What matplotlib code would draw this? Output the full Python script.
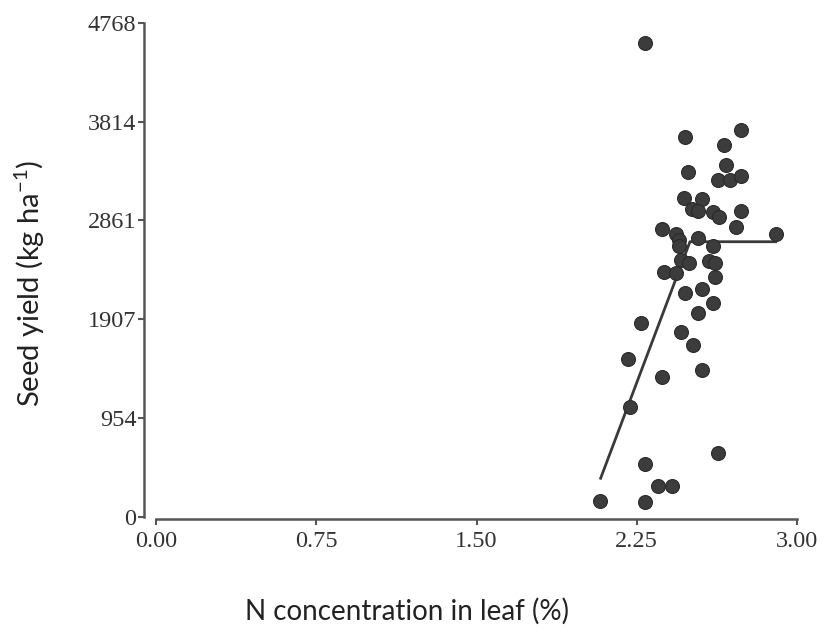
import matplotlib
matplotlib.use("Agg")
import matplotlib.pyplot as plt

# Data
n_leaf = [2.288, 2.475, 2.738, 2.658, 2.491, 2.668, 2.630, 2.686, 2.738, 2.472,
          2.555, 2.508, 2.538, 2.605, 2.738, 2.635, 2.713, 2.900, 2.368, 2.432,
          2.446, 2.446, 2.538, 2.605, 2.457, 2.494, 2.589, 2.616, 2.379, 2.432,
          2.614, 2.475, 2.556, 2.606, 2.536, 2.270, 2.457, 2.511, 2.210, 2.556,
          2.368, 2.218, 2.630, 2.290, 2.350, 2.413, 2.078, 2.290]
seed_yield = [4569, 3662, 3732, 3588, 3324, 3395, 3250, 3250, 3291, 3079,
              3064, 2970, 2954, 2938, 2954, 2896, 2793, 2729, 2774, 2729,
              2671, 2616, 2687, 2616, 2478, 2446, 2468, 2446, 2359, 2355,
              2311, 2156, 2195, 2066, 1963, 1872, 1786, 1657, 1519, 1416,
              1345, 1056, 618, 509, 299, 299, 154, 139]

# Linear-plateau fit line
fit_x = [2.081, 2.499, 2.900]
fit_y = [371, 2654, 2654]

x_ticks = [0.00, 0.75, 1.50, 2.25, 3.00]
x_ticklabels = ["0.00", "0.75", "1.50", "2.25", "3.00"]
y_ticks = [0, 954, 1907, 2861, 3814, 4768]
y_ticklabels = ["0", "954", "1907", "2861", "3814", "4768"]

W, H = 826, 634
fig = plt.figure(figsize=(W / 100, H / 100), dpi=100)
ax = fig.add_axes([156 / W, (H - 516.7) / H, (797 - 156) / W, (516.7 - 22.7) / H])

ax.scatter(n_leaf, seed_yield, s=100, color="#3c3c3c", edgecolors="#2a2a2a",
           linewidths=0.8, zorder=3)
ax.plot(fit_x, fit_y, color="#3a3a3a", lw=2.0, zorder=2)

ax.set_xlim(0, 3.0)
ax.set_ylim(0, 4768)
ax.set_xticks(x_ticks)
ax.set_xticklabels(x_ticklabels)
ax.set_yticks(y_ticks)
ax.set_yticklabels(y_ticklabels)

for s in ["top", "right"]:
    ax.spines[s].set_visible(False)
ax.spines["left"].set_position(("outward", 12 * 0.72))
ax.spines["bottom"].set_position(("outward", 2 * 0.72))
for s in ["left", "bottom"]:
    ax.spines[s].set_color("#555555")
    ax.spines[s].set_linewidth(1.8)

ax.tick_params(axis="both", direction="out", length=4, width=1.5, color="#555555",
               labelcolor="#333333")
ax.tick_params(axis="x", pad=5)
ax.tick_params(axis="y", pad=1.5)
for lab in ax.get_xticklabels() + ax.get_yticklabels():
    lab.set_fontfamily("Liberation Serif")
    lab.set_fontsize(17.5)

fig.text(407 / W, 1 - 611 / H, "N concentration in leaf (%)", ha="center", va="center",
         fontsize=20, family="Lato", color="#222222")
fig.text(30 / W, 1 - 283 / H, "Seed yield (kg ha$^{\\mathregular{-1}}$)", ha="center", va="center",
         rotation=90, fontsize=21, family="Lato", color="#222222")

fig.savefig("out.png", dpi=100)
